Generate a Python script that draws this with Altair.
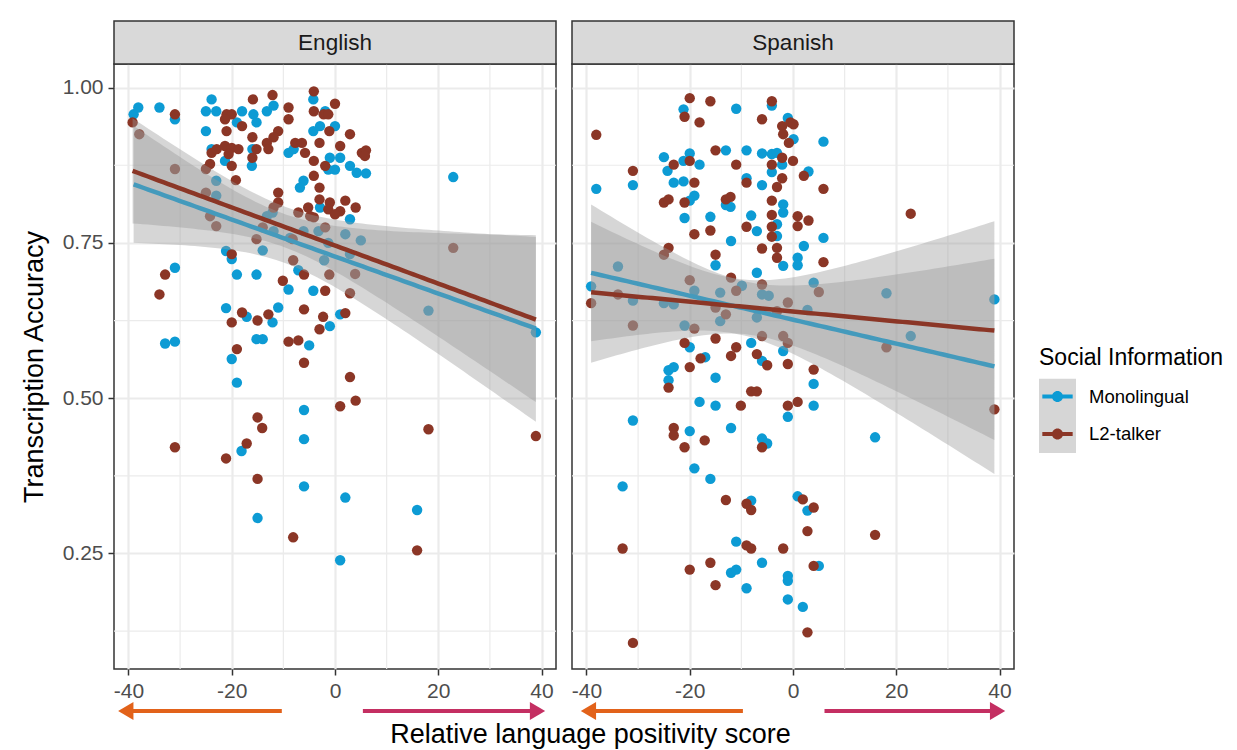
import altair as alt
import pandas as pd
import numpy as np

FONT = "Liberation Sans"
panels = ["English", "Spanish"]
series = ["Monolingual", "L2-talker"]
series_colors = ["#0d9bd4", "#8b3626"]
x_ticks = [-40, -20, 0, 20, 40]
x_minor = [-30, -10, 10, 30]
y_ticks = [0.25, 0.50, 0.75, 1.00]
y_minor = [0.125, 0.375, 0.625, 0.875]
x_title = "Relative language positivity score"
y_title = "Transcription Accuracy"
legend_title = "Social Information"

# ---- English, Monolingual ----
eng_mono_x = [-39.0, -38.1, -34.0, -31.0, -25.0, -23.0, -23.9, -19.0, -18.0, -15.8, -15.2, -13.2, -11.9, -4.2, -1.9, 0.0, -4.2, -2.9, -25.0, -23.9, -21.3, -16.0, -16.1, -9.0, -8.0, -1.0, 1.0, -1.3, 0.0, 2.9, 4.2, 6.0, -6.1, -6.8, -23.0, -23.0, -2.9, 2.9, -12.1, -13.2, -11.9, -8.7, -6.1, -3.2, 2.0, 5.0, 2.9, -1.3, -2.1, 18.1, 22.9, 38.9, -21.1, -20.0, -14.0, -19.0, -15.2, -31.0, -7.1, -9.0, -4.2, -21.1, -17.1, -11.0, -12.1, -1.0, 1.0, -32.9, -31.0, -15.2, -14.0, -5.0, -20.0, -19.0, -6.0, -6.0, -18.1, -6.0, 2.0, 15.9, -15.0, 1.0]
eng_mono_y = [0.957, 0.968, 0.968, 0.949, 0.962, 0.962, 0.981, 0.944, 0.962, 0.957, 0.944, 0.962, 0.971, 0.981, 0.962, 0.938, 0.930, 0.938, 0.930, 0.901, 0.882, 0.901, 0.874, 0.895, 0.901, 0.887, 0.887, 0.868, 0.868, 0.874, 0.863, 0.862, 0.850, 0.839, 0.850, 0.826, 0.807, 0.788, 0.799, 0.793, 0.769, 0.758, 0.769, 0.769, 0.764, 0.754, 0.732, 0.750, 0.722, 0.641, 0.856, 0.606, 0.737, 0.724, 0.738, 0.699, 0.699, 0.710, 0.706, 0.675, 0.673, 0.645, 0.631, 0.646, 0.622, 0.616, 0.635, 0.588, 0.591, 0.595, 0.595, 0.585, 0.563, 0.525, 0.481, 0.434, 0.415, 0.358, 0.340, 0.320, 0.307, 0.239]

# ---- English, L2-talker ----
eng_l2_x = [-39.2, -31.0, -21.0, -20.0, -21.3, -18.0, -15.9, -12.1, -9.0, -9.0, -4.1, -4.1, -2.2, -1.3, 0.0, -1.1, -21.0, -16.0, -11.0, -11.9, -13.2, 2.9, -23.9, -22.9, -21.3, -20.0, -18.7, -20.6, -20.0, -16.0, -15.2, -12.9, -7.7, -6.4, -5.8, -3.0, 1.0, -4.1, -1.9, 5.2, 6.0, 5.8, -31.0, -25.0, -24.2, -4.1, -19.2, -3.0, -11.0, -25.0, -37.9, -11.0, -11.9, -3.0, -1.0, -1.3, 1.0, 0.0, 2.0, 4.0, -7.1, -5.2, -4.8, -4.1, -24.2, -23.0, -14.0, -15.2, -8.2, -1.9, 3.9, 22.9, -20.0, -32.9, -34.0, -10.1, -8.1, -6.0, -1.1, -1.9, 2.9, -18.0, -20.0, -15.0, -12.9, -6.0, -2.3, 2.0, -3.0, -9.0, -7.1, -19.0, -6.0, 2.9, 1.0, 4.0, -15.0, -14.1, -31.0, -17.1, -21.1, 18.1, 38.9, -15.0, -8.1, 15.9]
eng_l2_y = [0.944, 0.957, 0.957, 0.957, 0.949, 0.938, 0.981, 0.988, 0.968, 0.949, 0.994, 0.962, 0.957, 0.957, 0.974, 0.930, 0.930, 0.920, 0.930, 0.920, 0.911, 0.925, 0.895, 0.901, 0.906, 0.903, 0.901, 0.893, 0.874, 0.887, 0.901, 0.901, 0.911, 0.911, 0.895, 0.911, 0.906, 0.882, 0.874, 0.895, 0.899, 0.890, 0.869, 0.869, 0.877, 0.858, 0.851, 0.839, 0.831, 0.831, 0.925, 0.815, 0.807, 0.820, 0.815, 0.804, 0.801, 0.796, 0.818, 0.807, 0.799, 0.807, 0.793, 0.791, 0.793, 0.777, 0.775, 0.756, 0.756, 0.775, 0.700, 0.742, 0.732, 0.699, 0.667, 0.689, 0.722, 0.699, 0.699, 0.673, 0.669, 0.638, 0.622, 0.625, 0.635, 0.643, 0.631, 0.637, 0.611, 0.591, 0.593, 0.579, 0.557, 0.534, 0.487, 0.496, 0.469, 0.452, 0.421, 0.427, 0.403, 0.450, 0.439, 0.370, 0.276, 0.255]

# ---- Spanish, Monolingual ----
spa_mono_x = [-38.1, -31.0, -21.2, -11.0, -4.1, -1.0, 0.1, 5.9, -25.0, -24.3, -21.2, -20.0, -18.1, -23.1, -21.2, -13.0, -9.0, -6.0, -4.1, -3.1, -2.1, -4.1, 3.0, -9.0, -6.0, -19.1, -20.0, -13.0, -12.1, -1.9, -1.9, -3.1, -3.1, -21.0, -16.0, -8.1, -7.0, -12.0, 5.9, 2.1, -1.9, 0.9, 0.9, -15.0, -7.0, -39.1, -33.9, -31.0, -19.1, -25.0, -23.1, -14.1, -9.9, -14.1, -6.0, -4.7, -7.0, 2.8, 4.0, 18.1, 22.8, 39.0, -21.0, -20.0, -17.0, -8.1, -1.9, -6.0, -24.1, -23.1, -24.1, -15.0, 4.0, -18.1, -15.0, 4.0, -1.0, -31.0, -20.0, -12.0, -6.0, -5.0, 15.9, -19.1, -16.0, -33.0, -8.1, 0.9, 2.8, -11.0, -6.0, -12.0, -11.0, 5.0, -9.0, -1.0, -1.0, -1.0, 1.9]
spa_mono_y = [0.837, 0.843, 0.965, 0.966, 0.971, 0.951, 0.917, 0.913, 0.888, 0.866, 0.882, 0.894, 0.876, 0.847, 0.849, 0.899, 0.899, 0.894, 0.893, 0.895, 0.876, 0.864, 0.865, 0.854, 0.843, 0.826, 0.818, 0.811, 0.808, 0.812, 0.799, 0.780, 0.761, 0.790, 0.792, 0.794, 0.769, 0.753, 0.758, 0.745, 0.713, 0.726, 0.714, 0.714, 0.702, 0.680, 0.712, 0.657, 0.673, 0.653, 0.651, 0.670, 0.681, 0.624, 0.667, 0.665, 0.630, 0.642, 0.686, 0.669, 0.600, 0.659, 0.617, 0.582, 0.566, 0.589, 0.576, 0.560, 0.545, 0.550, 0.529, 0.533, 0.523, 0.494, 0.488, 0.488, 0.470, 0.464, 0.447, 0.452, 0.435, 0.427, 0.437, 0.387, 0.370, 0.358, 0.335, 0.342, 0.319, 0.269, 0.235, 0.219, 0.224, 0.230, 0.194, 0.214, 0.206, 0.176, 0.164]

# ---- Spanish, L2-talker ----
spa_l2_x = [-38.1, -31.0, -21.0, -20.0, -18.1, -16.0, -6.0, -4.1, -2.1, -0.5, 0.1, -1.9, -0.8, -23.1, -20.0, -19.1, -15.0, -11.0, -2.1, 0.0, -4.1, 2.1, -9.0, -3.1, -2.1, 5.9, -25.0, -24.1, -21.0, -13.0, -12.1, -4.1, -4.1, -4.1, -4.1, 0.9, 3.0, 0.9, -19.1, -16.0, -9.0, -6.0, -3.1, -3.1, 5.9, -24.1, -25.0, -15.0, 22.8, -39.1, -33.9, -31.0, -20.0, -15.0, -12.0, -11.0, -13.0, -6.0, -3.1, -1.0, 5.0, 18.1, -19.1, -21.0, -15.0, -17.9, -11.0, -12.0, -6.0, -7.0, -1.0, -1.9, -5.0, -1.0, 4.0, -20.0, -24.1, -8.1, -7.0, -10.1, -1.0, 0.9, -23.1, -23.1, -17.1, -21.0, -6.0, 39.0, -13.0, -9.0, -8.1, 1.9, 4.0, 2.8, 15.9, -33.0, -9.0, -8.1, -1.9, -16.0, -20.0, 4.0, -15.0, 2.8, -31.0]
spa_l2_y = [0.924, 0.866, 0.953, 0.983, 0.944, 0.978, 0.949, 0.978, 0.938, 0.944, 0.941, 0.925, 0.911, 0.876, 0.882, 0.847, 0.899, 0.876, 0.887, 0.882, 0.876, 0.858, 0.847, 0.840, 0.854, 0.837, 0.815, 0.820, 0.815, 0.820, 0.824, 0.818, 0.795, 0.776, 0.760, 0.793, 0.786, 0.777, 0.764, 0.770, 0.776, 0.741, 0.742, 0.726, 0.719, 0.742, 0.731, 0.731, 0.797, 0.653, 0.667, 0.617, 0.690, 0.646, 0.694, 0.673, 0.635, 0.683, 0.640, 0.654, 0.671, 0.582, 0.612, 0.589, 0.596, 0.564, 0.582, 0.568, 0.600, 0.571, 0.589, 0.600, 0.553, 0.555, 0.546, 0.550, 0.517, 0.511, 0.511, 0.488, 0.488, 0.494, 0.452, 0.440, 0.432, 0.421, 0.421, 0.482, 0.336, 0.330, 0.320, 0.337, 0.324, 0.286, 0.280, 0.258, 0.263, 0.258, 0.258, 0.235, 0.224, 0.230, 0.199, 0.123, 0.106]

# ---- direction arrows under each panel (tail -> tip, in x units) ----
arrow_dir = ["left", "right"]
arrow_colors = ["#e2621a", "#c42f62"]
eng_arrow_tail = [-10.3, 5.4]
eng_arrow_tip = [-42.0, 40.7]
spa_arrow_tail = [-9.7, 6.1]
spa_arrow_tip = [-41.1, 41.1]

PANEL_W, PANEL_H = 442, 605
X_DOM = [-42.8, 42.8]
Y_DOM = [0.064, 1.038]


def smooth(xs, ys, n_pts=80):
    x = np.asarray(xs, float)
    y = np.asarray(ys, float)
    n = len(x)
    mx, my = x.mean(), y.mean()
    sxx = ((x - mx) ** 2).sum()
    b = ((x - mx) * (y - my)).sum() / sxx
    a = my - b * mx
    s = np.sqrt(((y - (a + b * x)) ** 2).sum() / (n - 2))
    z = 1.959964
    df = n - 2
    t = z + (z ** 3 + z) / (4 * df) + (5 * z ** 5 + 16 * z ** 3 + 3 * z) / (96 * df ** 2)
    g = np.linspace(x.min(), x.max(), n_pts)
    f = a + b * g
    se = s * np.sqrt(1.0 / n + (g - mx) ** 2 / sxx)
    return pd.DataFrame({"x": g, "fit": f, "lo": f - t * se, "hi": f + t * se})


xscale = alt.Scale(domain=X_DOM, nice=False, zero=False)
yscale = alt.Scale(domain=Y_DOM, nice=False, zero=False)
cscale = alt.Scale(domain=series, range=series_colors)

LEG_PATH = ("M-0.82,-0.11H0.82V0.11H-0.82Z "
            "M0.3,0A0.3,0.3,0,1,1,-0.3,0A0.3,0.3,0,1,1,0.3,0Z")
HEAD_LEFT = "M0,0L1.7,-1L1.7,1Z"
HEAD_RIGHT = "M0,0L-1.7,-1L-1.7,1Z"


def make_panel(name, mono_x, mono_y, l2_x, l2_y, a_tail, a_tip, first):
    pts = pd.concat([
        pd.DataFrame({"x": mono_x, "y": mono_y, "series": series[0]}),
        pd.DataFrame({"x": l2_x, "y": l2_y, "series": series[1]}),
    ], ignore_index=True)

    if first:
        xaxis = alt.Axis(values=x_ticks, labelExpr="'' + datum.value", title=x_title,
                         titleX=476, titleY=73, titleBaseline="alphabetic", titleAlign="center",
                         titleFontSize=27, titleColor="#000000", titleFontWeight="normal")
        yaxis = alt.Axis(values=y_ticks, format=".2f", title=y_title, titleFontSize=27,
                         titleColor="#000000", titleFontWeight="normal", titlePadding=14)
    else:
        xaxis = alt.Axis(values=x_ticks, labelExpr="'' + datum.value", title=None)
        yaxis = alt.Axis(values=y_ticks, labels=False, ticks=False, title=None)

    def X(field):
        return alt.X(field, scale=xscale, axis=xaxis)

    def Y(field):
        return alt.Y(field, scale=yscale, axis=yaxis)

    points = alt.Chart(pts).mark_circle(size=108, opacity=1).encode(
        x=X("x:Q"), y=Y("y:Q"),
        color=alt.Color("series:N", scale=cscale,
                        legend=alt.Legend(title=legend_title, orient="none",
                                          legendX=925, legendY=283,
                                          symbolType=LEG_PATH, symbolSize=1369,
                                          symbolStrokeWidth=0, symbolOpacity=1,
                                          labelOffset=13, rowPadding=9.5,
                                          titlePadding=8, titleLimit=400)),
    )

    minor_x = alt.Chart(pd.DataFrame({"x": x_minor})).mark_rule(
        color="#ebebeb", strokeWidth=1.2).encode(x=X("x:Q"))
    minor_y = alt.Chart(pd.DataFrame({"y": y_minor})).mark_rule(
        color="#ebebeb", strokeWidth=1.2).encode(y=Y("y:Q"))

    layers = [minor_x, minor_y, points]
    for s, xs, ys, col in [(series[0], mono_x, mono_y, series_colors[0]),
                           (series[1], l2_x, l2_y, series_colors[1])]:
        sm = smooth(xs, ys)
        sm["series"] = s
        band = alt.Chart(sm).mark_area(color="#999999", opacity=0.4).encode(
            x=X("x:Q"), y=Y("lo:Q"), y2="hi:Q")
        line = alt.Chart(sm).mark_line(color=col, strokeWidth=4.5).encode(
            x=X("x:Q"), y=Y("fit:Q"))
        layers += [band, line]

    # strip header
    strip_df = pd.DataFrame({"panel": [name]})
    strip = alt.Chart(strip_df).mark_rect(fill="#d9d9d9", stroke="#333333", strokeWidth=1.5).encode(
        x=alt.value(0), x2=alt.value(PANEL_W), y=alt.value(-43), y2=alt.value(0))
    strip_txt = alt.Chart(strip_df).mark_text(font=FONT, fontSize=22.5, color="#1a1a1a",
                                              baseline="middle", align="center").encode(
        text="panel:N", x=alt.value(PANEL_W / 2), y=alt.value(-21.5))
    layers += [strip, strip_txt]

    # arrows
    arr = pd.DataFrame({"dir": arrow_dir, "x": a_tail, "tip": a_tip, "col": arrow_colors})
    for d, head, off in [("left", HEAD_LEFT, 12), ("right", HEAD_RIGHT, -12)]:
        sub = alt.Chart(arr).transform_filter(alt.datum.dir == d)
        shaft = sub.mark_rule(strokeWidth=4, x2Offset=off).encode(
            x=X("x:Q"), x2="tip:Q",
            y=alt.value(647), color=alt.Color("col:N", scale=None))
        tip = sub.mark_point(shape=head, size=324, filled=True, opacity=1).encode(
            x=X("tip:Q"),
            y=alt.value(647), color=alt.Color("col:N", scale=None))
        layers += [shaft, tip]

    if not first:
        key_bg = alt.Chart(pd.DataFrame({"k": [0]})).mark_rect(fill="#d6d6d6").encode(
            x=alt.value(467), x2=alt.value(504), y=alt.value(314.7), y2=alt.value(389))
        layers.append(key_bg)

    return alt.layer(*layers).properties(width=PANEL_W, height=PANEL_H)


p_eng = make_panel(panels[0], eng_mono_x, eng_mono_y, eng_l2_x, eng_l2_y,
                   eng_arrow_tail, eng_arrow_tip, True)
p_spa = make_panel(panels[1], spa_mono_x, spa_mono_y, spa_l2_x, spa_l2_y,
                   spa_arrow_tail, spa_arrow_tip, False)

chart = alt.hconcat(p_eng, p_spa, spacing=16, bounds="flush").properties(
    padding={"left": 19, "top": 19, "right": 5, "bottom": 2},
    background="white",
).configure_view(
    stroke="#333333", strokeWidth=1.5,
).configure_axis(
    grid=True, gridColor="#ebebeb", gridWidth=2.2, domain=False,
    tickColor="#333333", tickWidth=1.5, tickSize=6,
    labelFont=FONT, labelFontSize=21, labelColor="#4d4d4d", labelPadding=5,
    titleFont=FONT,
).configure_legend(
    titleFont=FONT, titleFontSize=23, titleFontWeight="normal", titleColor="#000000",
    labelFont=FONT, labelFontSize=18.5, labelColor="#000000", padding=0,
)

chart.save("out.html", embed_options={"renderer": "svg", "actions": False})
